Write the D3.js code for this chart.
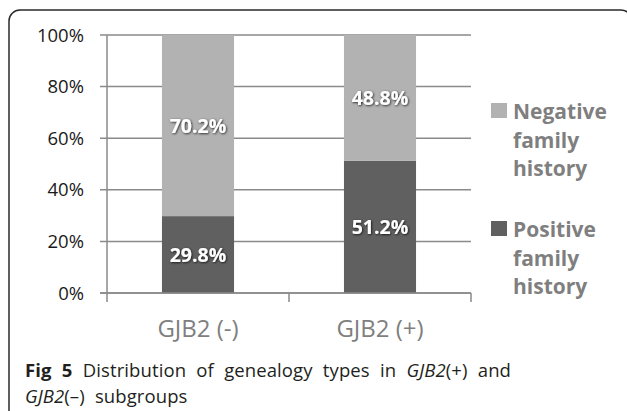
<!DOCTYPE html>
<html>
<head>
<meta charset="utf-8">
<script src="https://cdn.jsdelivr.net/npm/d3@7"></script>
<style>
  html, body { margin: 0; padding: 0; background: #fff; }
  svg { display: block; }
</style>
</head>
<body>
<svg id="chart" width="627" height="411"></svg>
<script>
const categories = ["GJB2 (-)", "GJB2 (+)"];
const positiveValues = [29.8, 51.2];
const negativeValues = [70.2, 48.8];
const seriesNames = ["Positive family history", "Negative family history"];
const yTicks = [0, 20, 40, 60, 80, 100];

const colors = { pos: "#606060", neg: "#b2b2b2" };
const svg = d3.select("#chart");

// frame
svg.append("rect").attr("x", 9).attr("y", 10).attr("width", 623).attr("height", 520)
  .attr("rx", 11).attr("fill", "none").attr("stroke", "#2a2a2a").attr("stroke-width", 1.5);

const x = d3.scaleBand().domain(categories).range([107, 471]).paddingInner(0).paddingOuter(0);
const y = d3.scaleLinear().domain([0, 100]).range([293, 35]);
const barW = x.bandwidth() * 0.396;

// gridlines
svg.append("g").selectAll("line").data(yTicks).join("line")
  .attr("x1", 100).attr("x2", 471)
  .attr("y1", d => y(d)).attr("y2", d => y(d))
  .attr("stroke", "#8a8a8a").attr("stroke-width", 1.5);

// y axis labels
svg.append("g").selectAll("text").data(yTicks).join("text")
  .attr("x", 84).attr("y", d => y(d)).attr("dy", "0.36em")
  .attr("text-anchor", "end")
  .attr("font-family", "'Open Sans', sans-serif").attr("font-size", 18.5)
  .attr("fill", "#1a1a1a")
  .text(d => d + "%");

// bars
const stackData = categories.map((c, i) => ({ c, pos: positiveValues[i], neg: negativeValues[i] }));
const g = svg.append("g");
g.selectAll("rect.pos").data(stackData).join("rect").attr("class", "pos")
  .attr("x", d => x(d.c) + x.bandwidth() / 2 - barW / 2).attr("width", barW)
  .attr("y", d => y(d.pos)).attr("height", d => y(0) - y(d.pos))
  .attr("fill", colors.pos);
g.selectAll("rect.neg").data(stackData).join("rect").attr("class", "neg")
  .attr("x", d => x(d.c) + x.bandwidth() / 2 - barW / 2).attr("width", barW)
  .attr("y", d => y(d.pos + d.neg)).attr("height", d => y(d.pos) - y(d.pos + d.neg))
  .attr("fill", colors.neg);

// axes lines
svg.append("line").attr("x1", 107).attr("x2", 107).attr("y1", 35).attr("y2", 293)
  .attr("stroke", "#8a8a8a").attr("stroke-width", 1.5);
svg.append("line").attr("x1", 100).attr("x2", 471).attr("y1", 293).attr("y2", 293)
  .attr("stroke", "#8a8a8a").attr("stroke-width", 1.5);
const xt = [107].concat(categories.map(c => x(c) + x.bandwidth()));
svg.append("g").selectAll("line").data(xt).join("line")
  .attr("x1", d => d).attr("x2", d => d).attr("y1", 293).attr("y2", 302)
  .attr("stroke", "#8a8a8a").attr("stroke-width", 1.5);

// category labels
svg.append("g").selectAll("text").data(categories).join("text")
  .attr("x", d => x(d) + x.bandwidth() / 2).attr("y", 337)
  .attr("text-anchor", "middle")
  .attr("font-family", "'Open Sans', sans-serif").attr("font-size", 24)
  .attr("fill", "#7f7f7f")
  .text(d => d);

// data labels
const defs = svg.append("defs");
const f = defs.append("filter").attr("id", "sh").attr("x", "-20%").attr("y", "-40%").attr("width", "140%").attr("height", "180%");
f.append("feDropShadow").attr("dx", 0.8).attr("dy", 0.8).attr("stdDeviation", 0.8)
  .attr("flood-color", "#000").attr("flood-opacity", 0.8);
const labels = [];
stackData.forEach(d => {
  labels.push({ c: d.c, v: d.neg, mid: d.pos + d.neg / 2 });
  labels.push({ c: d.c, v: d.pos, mid: d.pos / 2 });
});
svg.append("g").selectAll("text").data(labels).join("text")
  .attr("x", d => x(d.c) + x.bandwidth() / 2).attr("y", d => y(d.mid)).attr("dy", "0.36em")
  .attr("text-anchor", "middle")
  .attr("font-family", "'Open Sans', sans-serif").attr("font-weight", "bold").attr("font-size", 19.5)
  .attr("fill", "#fff").attr("filter", "url(#sh)")
  .text(d => d.v.toFixed(1) + "%");

// legend
const legend = [
  { name: seriesNames[1], color: colors.neg, lines: ["Negative", "family", "history"], y: 119 },
  { name: seriesNames[0], color: colors.pos, lines: ["Positive", "family", "history"], y: 237 }
];
const lg = svg.append("g").selectAll("g").data(legend).join("g");
lg.append("rect").attr("x", 491).attr("y", d => d.y - 16).attr("width", 16).attr("height", 15)
  .attr("fill", d => d.color);
lg.append("text")
  .attr("font-family", "'Open Sans', sans-serif").attr("font-weight", "bold").attr("font-size", 21)
  .attr("fill", "#7f7f7f")
  .selectAll("tspan").data(d => d.lines.map((l, i) => ({ l, y: d.y + i * 28.5 }))).join("tspan")
  .attr("x", 513).attr("y", d => d.y).text(d => d.l);

// caption (justified manually, one text per word)
const captionLine1 = [
  [["Fig", "b"]], [["5", "b"]], [["Distribution", ""]], [["of", ""]], [["genealogy", ""]],
  [["types", ""]], [["in", ""]], [["GJB2", "i"], ["(+)", ""]], [["and", ""]]
];
const captionLine2 = [[["GJB2", "i"], ["(\u2013)", ""]], [["subgroups", ""]]];
const cap = svg.append("g").attr("font-family", "'Open Sans', sans-serif")
  .attr("font-size", 18.5).attr("letter-spacing", 0.1).attr("fill", "#231f20");
function makeWords(words, yy) {
  return words.map(parts => {
    const t = cap.append("text").attr("y", yy);
    parts.forEach(([s, st]) => {
      const sp = t.append("tspan").text(s);
      if (st === "b") sp.attr("font-weight", "bold");
      if (st === "i") sp.attr("font-style", "italic");
    });
    return { t, w: t.node().getComputedTextLength() };
  });
}
const w1 = makeWords(captionLine1, 377);
const total1 = d3.sum(w1, d => d.w);
const gap = (486 - total1) / (w1.length - 1);
let cx = 25;
w1.forEach(d => { d.t.attr("x", cx); cx += d.w + gap; });
const w2 = makeWords(captionLine2, 403);
cx = 25;
w2.forEach(d => { d.t.attr("x", cx); cx += d.w + gap; });
</script>
</body>
</html>
